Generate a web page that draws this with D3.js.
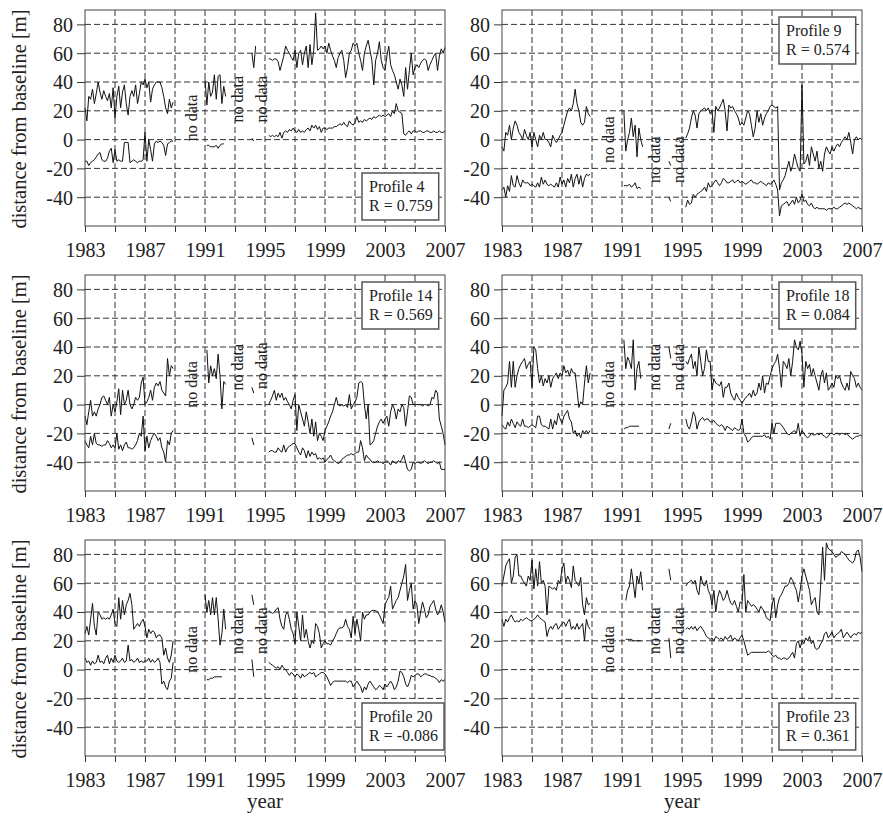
<!DOCTYPE html>
<html>
<head>
<meta charset="utf-8">
<script src="https://cdn.jsdelivr.net/npm/d3@7"></script>
<style>
html,body{margin:0;padding:0;background:#fff;}
svg{display:block;}
text{font-family:"Liberation Serif","Times New Roman",serif;fill:#222;}
</style>
</head>
<body>
<script>
// ---------------- DATA ----------------
// sampling: each series is split into 4 observation periods (gaps = "no data")
const segmentStarts = [1983.0, 1991.0, 1994.125, 1995.25];
const sampleStep = 0.125; // years between samples

const profileNames = ["Profile 4", "Profile 9", "Profile 14", "Profile 18", "Profile 20", "Profile 23"];
const rValues = ["0.759", "0.574", "0.569", "0.084", "-0.086", "0.361"];
const xTickYears = [1983,1985,1987,1989,1991,1993,1995,1997,1999,2001,2003,2005,2007];
const xLabelYears = [1983,1987,1991,1995,1999,2003,2007];
const yTicks = [-40,-20,0,20,40,60,80];
const noDataYears = [1990.1, 1993.2, 1994.75];
const noDataText = "no data";
const yTitle = "distance from baseline [m]";
const xTitle = "year";

// Profile 4
const p4Upper = [
 [22,13,30,28,35,25,32,40, 33,28,34,30,27,32,22,36, 15,30,37,22,33,38,25,17, 30,34,30,38,25,32,40,38, 42,36,40,26,35,38,40,40, 40,36,30,22,18,28,22,26],
 [42,24,40,30,33,45,28,44,45,25,37,30],
 [60,50,65],
 [56,56,55,56,56,54, 48,53,58,65,62,60,57,55, 62,50,60,62,52,60,65,50, 66,52,62,88,62,63,65,63, 65,60,67,62,58,55,50,57,
  60,62,55,43,50,60,62,67, 65,67,60,55,48,60,65,69, 62,55,38,55,60,68,55,50, 48,58,65,52,48,45,40,35, 42,38,30,50,35,48,60,45,
  50,52,50,53,55,56,55,48, 52,55,58,60,48,58,63,60, 64]
];
const p4Lower = [
 [-15,-15,-18,-16,-15,-14,-12,-10, -9,-14,-15,-15,-13,-8,-6,-16, -7,-15,-14,-15,-15,-2,-2,-2, -16,-15,-14,-15,-16,-15,-15,-14, 5,-15,0,-7,-15,-3,-1,-2, -1,-2,-4,-11,-3,-2,-1,-1],
 [null,-4,-4,-5,-5,-5,-4,-6,-4,-3,-3,null],
 [1,-1],
 [3,2,3,2,3,2, 5,1,5,6,5,7,6,8, 6,5,7,5,6,5,7,8, 6,10,8,10,7,9,5,8, 8,7,8,8,8,9,9,10,
  11,10,12,10,9,13,11,10, 12,16,12,13,12,14,13,14, 15,14,16,15,16,17,16,17, 16,17,18,16,20,18,25,20, 19,18,4,3,5,6,4,6,
  6,5,6,6,5,5,6,6, 5,5,6,5,5,6,5,5, 6]
];

// Profile 9
const p9Upper = [
 [-5,-8,5,3,10,0,8,13, 10,5,3,0,7,3,0,5, -5,5,0,-5,3,0,5,0, 0,-2,-5,3,0,-2,0,3, 5,10,15,20,22,20,25,35, 25,20,12,10,12,23,18,16],
 [null,20,-8,0,5,15,2,10,-12,8,0,-5],
 [-15,-18],
 [1,4,8,15,20,17, 8,18,20,21,22,20,22,18, 20,5,23,20,22,25,28,20, 6,24,22,23,20,18,15,10, 12,10,15,20,18,10,2,8,
  20,12,18,10,15,18,20,23, 24,23,22,23,-35,-30,-28,-25, -20,-15,-22,-18,-10,-15,-20,-22, 38,-17,-15,-10,-18,-5,-10,-15,
  -8,-20,-15,-22,-10,-5,-8,-10, -5,-8,-5,-3,-5,-2,0,2, 0,5,-2,-10,0,2,0,1, 0]
];
const p9Lower = [
 [-35,-33,-40,-32,-36,-25,-32,-33, -25,-30,-33,-28,-30,-30,-30,-32, -31,-32,-33,-30,-33,-26,-31,-28, -31,-32,-31,-32,-33,-30,-33,-26, -31,-28,-33,-27,-30,-24,-33,-27, -24,-31,-25,-33,-27,-24,-25,-24],
 [null,-32,-32,-32,-31,-33,-32,-30,-34,-33,-34,null],
 [-40,-43],
 [-47,-42,-45,-44,-38,-40, -38,-37,-36,-35,-33,-36,-30,-33, -32,-30,-28,-30,-32,-30,-27,-28, -30,-30,-29,-28,-30,-29,-28,-30, -29,-30,-31,-30,-29,-28,-30,-30,
  -31,-30,-29,-30,-31,-32,-30,-31, -30,-28,-31,-35,-53,-46,-45,-44, -43,-46,-44,-42,-45,-40,-44,-42, -38,-43,-42,-45,-46,-44,-47,-48,
  -47,-48,-48,-48,-48,-49,-48,-48, -48,-47,-48,-48,-47,-46,-45,-44, -45,-44,-45,-46,-47,-48,-47,-48, -48]
];

// Profile 14
const p14Upper = [
 [-8,-14,-5,3,-8,-5,-8,-3, 0,5,6,3,0,5,-8,0, -5,2,11,-7,10,0,3,10, 0,-3,0,5,3,5,15,19, 0,2,5,10,3,12,15,13, 16,10,8,6,32,20,27,25],
 [null,38,15,27,20,25,18,35,20,-3,16,14],
 [12,8],
 [0,3,6,10,3,8, 5,8,3,5,2,0,-3,3, 7,-18,0,-5,-10,-15,-5,-12, -20,-10,-22,-12,-25,-20,-22,-25, -18,-15,-12,-8,-5,0,5,0,
  -1,0,-1,0,-2,7,-3,0, 2,5,15,16,15,0,-10,0, -28,-27,-25,-20,-15,-12,-10,-13, -10,-8,-15,-5,0,-3,-10,-3,
  -5,0,-2,-15,-5,6,5,0, 0,0,0,0,-1,0,0,-1, 0,5,4,10,8,-10,-15,-20, -28]
];
const p14Lower = [
 [-25,-28,-30,-22,-28,-20,-27,-28, -28,-29,-28,-28,-25,-27,-30,-28, -30,-20,-31,-28,-32,-28,-26,-30, -30,-31,-30,-28,-25,-20,-22,-8, -32,-22,-30,-25,-22,-20,-22,-25, -23,-30,-33,-40,-25,-28,-20,-18],
 [],
 [-23,-28],
 [-33,-32,-32,-33,-33,-30, -32,-33,-28,-33,-30,-29,-28,-27, -27,-30,-33,-35,-30,-32,-37,-32, -36,-33,-35,-34,-38,-37,-38,-37, -40,-38,-37,-35,-38,-39,-40,-41,
  -40,-38,-37,-36,-35,-35,-34,-35, -34,-33,-33,-25,-30,-39,-35,-37, -38,-40,-40,-40,-39,-40,-40,-41, -40,-39,-40,-42,-39,-40,-41,-39,
  -40,-38,-35,-40,-45,-46,-45,-40, -41,-40,-40,-41,-40,-39,-40,-41, -40,-40,-39,-40,-41,-40,-45,-45, -45]
];

// Profile 18
const p18Upper = [
 [-8,10,12,15,30,12,30,12, 20,25,28,30,32,25,28,30, 12,40,38,25,15,20,13,18, 15,20,12,18,20,22,18,22, 20,27,22,24,20,25,22,22, 10,-2,2,0,15,27,15,22],
 [null,45,25,33,30,25,45,10,25,30,18,null],
 [40,32],
 [30,28,32,35,25,30, 20,40,30,20,25,38,30,30, 10,18,15,14,13,16,5,12, 12,15,8,5,3,8,5,3, 1,3,5,6,8,5,10,6,
  8,15,10,20,8,15,14,20, 25,28,30,35,25,12,30,28, 25,32,20,30,45,40,38,44, 35,12,30,25,28,20,25,20,
  15,10,20,24,15,22,10,12, 15,12,20,18,20,15,12,10, 15,10,23,20,18,12,15,12, 10]
];
const p18Lower = [
 [-14,-16,-17,-12,-15,-10,-13,-16, -12,-14,-15,-10,-15,-15,-16,-15, -14,-15,-16,-8,-8,-14,-15,-15, -16,-17,-10,-17,-11,-14,-6,-10, -13,-8,-6,-4,-10,-12,-20,-18, -22,-20,-23,-18,-20,-18,-20,-18],
 [null,-17,-16,-16,-15,-15,-15,-15,-15,-15,null,null],
 [-17,-13],
 [-10,-15,-17,-12,-5,-8, -17,-12,-10,-9,-11,-10,-10,-12, -12,-11,-13,-14,-15,-14,-15,-18, -15,-16,-17,-18,-16,-17,-18,-17, -10,-20,-22,-26,-25,-23,-22,-22,
  -22,-22,-22,-22,-21,-23,-22,-24, -13,-20,-13,-13,-13,-14,-16,-18, -20,-21,-20,-19,-18,-20,-13,-22, -18,-20,-22,-23,-22,-20,-21,-21,
  -20,-21,-20,-21,-22,-23,-22,-20, -20,-21,-20,-20,-21,-20,-20,-21, -20,-22,-23,-24,-23,-22,-22,-21, -22]
];

// Profile 20
const p20Upper = [
 [25,30,24,35,46,30,24,40, 38,35,36,35,36,35,38,42, 32,30,50,35,48,38,45,48, 53,45,28,30,32,30,33,35, 30,22,28,25,27,26,22,24, 24,22,10,15,8,5,10,20],
 [52,40,48,38,50,38,50,35,17,25,42,28],
 [52,45],
 [41,40,39,40,42,43, 35,30,28,38,40,35,28,25, 18,40,30,20,38,22,28,20, 15,20,18,32,30,25,15,18, 20,18,18,17,20,22,25,28,
  29,29,30,35,30,28,22,37, 25,35,28,20,40,35,38,38, 40,41,41,41,40,38,35,32, 45,48,50,58,42,45,48,50,
  55,60,65,73,48,55,60,42, 48,45,32,40,47,42,36,38, 44,46,48,42,38,40,45,40, 33]
];
const p20Lower = [
 [8,5,6,3,6,4,5,10, 5,6,4,8,10,4,8,5, 10,6,5,6,8,5,6,17, 6,7,5,6,8,5,6,5, 6,6,8,5,7,5,6,8, 5,-10,-8,-12,-14,-8,-6,5],
 [null,-7,-7,-6,-6,-5,-5,-5,-5,-5,null,null],
 [7,-5],
 [5,4,3,2,1,2, 0,3,1,0,-2,-4,-2,-3, -5,-3,-4,-6,-3,-5,-4,-3, -2,-3,-2,-5,-4,-3,-2,-2, -3,-5,-8,-11,-9,-8,-8,-8,
  -8,-8,-8,-8,-9,-8,-8,-12, -10,-8,-10,-12,-16,-12,-14,-10, -8,-10,-12,-14,-13,-11,-12,-14, -10,-12,-10,-8,-10,-14,-12,-8,
  -1,-2,-5,-10,-12,-9,-4,-5, -4,-3,-3,-5,-4,-3,-3,-4, -4,-5,-5,-6,-7,-9,-7,-8, -7]
];

// Profile 23
const p23Upper = [
 [58,65,72,75,77,60,65,78, 80,65,65,62,60,58,65,62, 76,56,70,58,75,60,62,58, 38,58,57,56,57,55,62,60, 70,74,60,65,62,57,72,62, 60,58,64,45,38,50,45,46],
 [null,null,48,55,58,70,60,50,65,60,68,55],
 [70,62],
 [58,60,61,62,60,62, 55,52,65,60,58,62,55,52, 45,55,40,50,55,52,48,50, 55,50,46,45,48,44,40,47, 46,66,40,48,46,44,45,44,
  42,40,44,42,40,36,35,34, 45,50,36,45,50,52,55,58, 58,60,64,62,58,55,47,55, 65,70,65,60,55,45,48,50,
  40,38,60,85,62,88,84,83, 82,80,78,79,80,82,81,80, 78,76,75,74,76,82,83,78, 68]
];
const p23Lower = [
 [35,30,35,33,36,38,35,33, 34,33,35,34,35,36,35,34, 34,35,36,38,36,35,34,33, 23,28,30,28,31,32,28,30, 32,33,30,33,35,28,30,28, 32,28,30,32,20,35,30,28],
 [null,null,21,21,21,21,20,20,20,20,20,null],
 [22,8],
 [28,29,28,30,28,30, 27,29,30,28,26,23,22,21, 22,20,23,22,21,22,20,23, 21,22,24,20,22,21,20,22, 24,20,15,10,11,12,12,12,
  12,12,12,12,12,12,13,12, 10,9,10,8,8,7,8,8, 7,8,10,12,8,18,20,15, 20,18,22,20,23,18,20,15,
  14,15,18,20,25,26,22,24, 26,22,24,25,26,28,22,24, 26,24,22,24,25,24,26,25, 26]
];

// ---------------- LAYOUT ----------------
const W = 883, H = 822;
const colLeft = [85, 502], rowTop = [10, 275, 540];
const pw = 360, ph = 216;

const panels = [
  {name: profileNames[0], r: rValues[0], upper: p4Upper,  lower: p4Lower,  legend: "bottom", nd: [15, 28, 28]},
  {name: profileNames[1], r: rValues[1], upper: p9Upper,  lower: p9Lower,  legend: "top",    nd: [0, -14, -14]},
  {name: profileNames[2], r: rValues[2], upper: p14Upper, lower: p14Lower, legend: "top",    nd: [14, 26, 27]},
  {name: profileNames[3], r: rValues[3], upper: p18Upper, lower: p18Lower, legend: "top",    nd: [14, 26, 26]},
  {name: profileNames[4], r: rValues[4], upper: p20Upper, lower: p20Lower, legend: "bottom", nd: [14, 27, 27]},
  {name: profileNames[5], r: rValues[5], upper: p23Upper, lower: p23Lower, legend: "bottom", nd: [14, 27, 27]}
];

const svg = d3.select("body").append("svg").attr("width", W).attr("height", H);
svg.append("rect").attr("width", W).attr("height", H).attr("fill", "#fff");

const x = d3.scaleLinear().domain([1983, 2007]).range([0, pw]);
const y = d3.scaleLinear().domain([-60, 90]).range([ph, 0]);

function toPoints(segs) {
  const pts = [];
  segs.forEach((vals, s) => {
    vals.forEach((v, i) => pts.push({t: segmentStarts[s] + i * sampleStep, v: v}));
    pts.push({t: null, v: null});
  });
  return pts;
}
const line = d3.line().defined(d => d.v != null).x(d => x(d.t)).y(d => y(d.v));

panels.forEach((p, k) => {
  const col = k % 2, row = Math.floor(k / 2);
  const g = svg.append("g").attr("transform", `translate(${colLeft[col]},${rowTop[row]})`);

  // grid
  g.append("g").selectAll("line").data(xTickYears.filter(d => d > 1983 && d < 2007)).join("line")
    .attr("x1", d => x(d)).attr("x2", d => x(d)).attr("y1", 0).attr("y2", ph)
    .attr("stroke", "#333").attr("stroke-width", 1).attr("stroke-dasharray", "6,3");
  g.append("g").selectAll("line").data(yTicks).join("line")
    .attr("x1", 0).attr("x2", pw).attr("y1", d => y(d)).attr("y2", d => y(d))
    .attr("stroke", "#333").attr("stroke-width", 1).attr("stroke-dasharray", "6,3");

  // axes
  const xa = g.append("g").attr("transform", `translate(0,${ph})`)
    .call(d3.axisBottom(x).tickValues(xTickYears).tickSize(6)
      .tickFormat(d => xLabelYears.includes(d) ? String(d) : ""));
  xa.select(".domain").remove();
  xa.selectAll("line").attr("stroke", "#333");
  xa.selectAll("text").attr("y", 31).attr("dy", null).style("font-size", "20px")
    .style("font-family", "'Liberation Serif', serif").attr("fill", "#222");

  const ya = g.append("g").call(d3.axisLeft(y).tickValues(yTicks).tickSize(8).tickPadding(4)
      .tickFormat(d => String(d)));
  ya.select(".domain").remove();
  ya.selectAll("line").attr("stroke", "#333");
  ya.selectAll("text").style("font-size", "20px").style("font-family", "'Liberation Serif', serif")
    .attr("fill", "#222").attr("dy", "0.34em");

  // series
  [p.upper, p.lower].forEach(s => {
    g.append("path").datum(toPoints(s)).attr("d", line)
      .attr("fill", "none").attr("stroke", "#111").attr("stroke-width", 1).attr("stroke-linejoin", "round");
  });

  // frame
  g.append("rect").attr("x", 0).attr("y", 0).attr("width", pw).attr("height", ph)
    .attr("fill", "none").attr("stroke", "#444").attr("stroke-width", 1);

  // no data labels
  noDataYears.forEach((yr, i) => {
    g.append("text").attr("transform", `translate(${x(yr)},${y(p.nd[i])}) rotate(-90)`)
      .attr("text-anchor", "middle").attr("dy", "0.33em")
      .style("font-size", "16px").text(noDataText);
  });

  // legend box
  const bx = 277, bh = 47;
  const by = p.legend === "top" ? 7 : ph - 6 - bh;
  const lg = g.append("g").attr("transform", `translate(${bx},${by})`);
  const rect = lg.append("rect");
  const t1 = lg.append("text").attr("x", 7).attr("y", 19).style("font-size", "16px").attr("fill", "#333").text(p.name);
  const t2 = lg.append("text").attr("x", 7).attr("y", 38).style("font-size", "16px").attr("fill", "#333").text("R = " + p.r);
  const tw = Math.max(t1.node().getComputedTextLength(), t2.node().getComputedTextLength());
  rect.attr("x", 0).attr("y", 0).attr("width", tw + 13).attr("height", bh)
    .attr("fill", "#fff").attr("stroke", "#555").attr("stroke-width", 1.5);

  // axis titles
  if (col === 0) {
    svg.append("text").attr("transform", `translate(26,${rowTop[row] + ph / 2 + 1}) rotate(-90)`)
      .attr("text-anchor", "middle").style("font-size", "20.5px").text(yTitle);
  }
  if (row === 2) {
    svg.append("text").attr("x", colLeft[col] + pw / 2).attr("y", 808)
      .attr("text-anchor", "middle").style("font-size", "21px").text(xTitle);
  }
});
</script>
</body>
</html>
